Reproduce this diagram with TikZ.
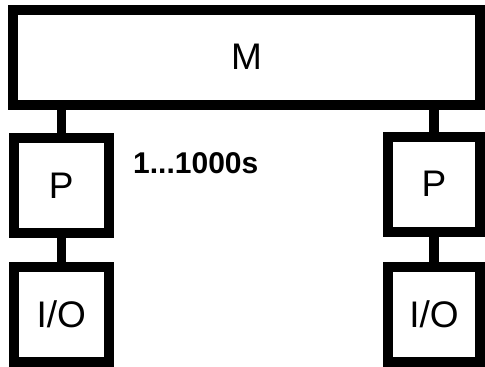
\documentclass[tikz,border=0pt]{standalone}
\usepackage{fontspec}
\setmainfont{Liberation Sans}
\begin{document}
\begin{tikzpicture}[x=1pt,y=-1pt,
  blk/.style={draw,line width=10pt,rectangle,inner sep=0pt,outer sep=0pt,font=\fontsize{37}{40}\selectfont},
  link/.style={line width=9.5pt}]
\useasboundingbox (0,0) rectangle (485,367);
\node[blk,minimum width=467pt,minimum height=95.5pt] (M) at (246.5,57.25) {M};
\node[blk,minimum width=95.5pt,minimum height=95pt] (Pl) at (61.25,185.5) {P};
\node[blk,minimum width=92pt,minimum height=95pt] (Pr) at (434,184) {P};
\node[blk,minimum width=95.5pt,minimum height=95pt] (IOl) at (61.25,314.5) {I/O};
\node[blk,minimum width=92pt,minimum height=95pt] (IOr) at (434,314) {I/O};
\draw[link] (M.south -| Pl.north) -- (Pl.north);
\draw[link] (M.south -| Pr.north) -- (Pr.north);
\draw[link] (Pl.south) -- (IOl.north);
\draw[link] (Pr.south) -- (IOr.north);
\node[anchor=west,inner sep=0pt,font=\bfseries\fontsize{30}{33}\selectfont] (lab) at (133,163.5) {1...1000s};
\end{tikzpicture}
\end{document}
